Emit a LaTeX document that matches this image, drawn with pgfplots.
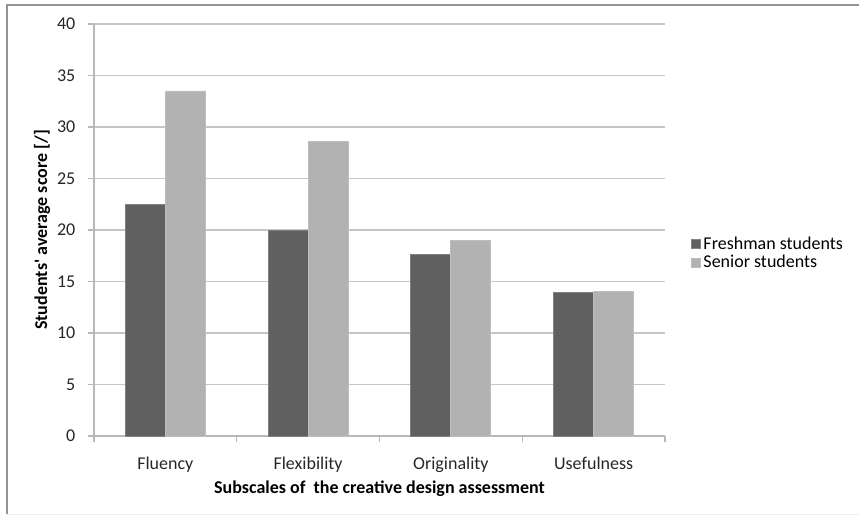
\documentclass[border=0pt]{standalone}
\usepackage{pgfplots}
\pgfplotsset{compat=1.18}
\usepackage{fontspec}
\setmainfont{Carlito}
\definecolor{darkbar}{HTML}{606060}
\definecolor{lightbar}{HTML}{B2B2B2}
\definecolor{gridc}{HTML}{C6C6C6}
\definecolor{axc}{HTML}{B8B8B8}
\begin{document}
\begin{tikzpicture}
\useasboundingbox (-70.5pt,-59.25pt) rectangle (573.75pt,327pt);
\draw[gray!85, line width=1.2pt] (-65.25pt,-58.6pt) -- (-65.25pt,323.25pt) -- (573.75pt,323.25pt);
\draw[gray!15, line width=0.6pt] (-65.25pt,-58.6pt) -- (573.75pt,-58.6pt);
\begin{axis}[
  at={(0pt,0pt)}, anchor=south west,
  scale only axis, width=428.25pt, height=309pt,
  ybar=0pt, bar width=30pt,
  xmin=-0.5, xmax=3.5, ymin=0, ymax=40,
  ytick={0,5,...,40},
  xtick={0,1,2,3},
  xticklabels={Fluency,Flexibility,Originality,Usefulness},
  minor xtick={-0.5,0.5,1.5,2.5,3.5},
  major x tick style={draw=none},
  minor x tick style={axc, line width=0.8pt},
  y tick style={axc, line width=0.8pt},
  tick align=outside,
  major tick length=4.5pt, minor tick length=4.5pt,
  axis x line*=bottom, axis y line*=left,
  axis line style={axc, line width=0.8pt, -},
  ymajorgrids, grid style={gridc, line width=0.9pt},
  /pgf/number format/assume math mode=true,
  font=\fontsize{13.5}{16}\selectfont,
  tick label style={text=black!85, font=\fontsize{13.5}{16}\selectfont},
  xticklabel style={yshift=-8pt},
  yticklabel style={xshift=-6pt},
  xlabel={\bfseries Subscales of\ \ the creative design assessment},
  ylabel={\bfseries Students\textquotesingle\ average score [/]},
  xlabel style={at={(axis description cs:0.5,-0.129)}, anchor=center, font=\fontsize{13.5}{16}\selectfont},
  ylabel style={at={(axis description cs:-0.091,0.5)}, anchor=center, font=\fontsize{13.5}{16}\selectfont},
  legend style={at={(axis description cs:1.045,0.443)}, anchor=west, draw=none, fill=none,
    font=\fontsize{13.5}{16}\selectfont, row sep=-1pt, inner sep=0pt},
  legend cell align=left,
  legend image code/.code={\fill[#1] (0pt,-3.4pt) rectangle (6.8pt,3.4pt);},
]
\addplot[fill=darkbar, draw=darkbar!80!white, line width=0.6pt] coordinates {(0,22.5) (1,20.0) (2,17.6) (3,13.9)};
\addplot[fill=lightbar, draw=lightbar!85!white, line width=0.6pt] coordinates {(0,33.5) (1,28.6) (2,19.0) (3,14.05)};
\legend{Freshman students, Senior students}
\end{axis}
\end{tikzpicture}
\end{document}
